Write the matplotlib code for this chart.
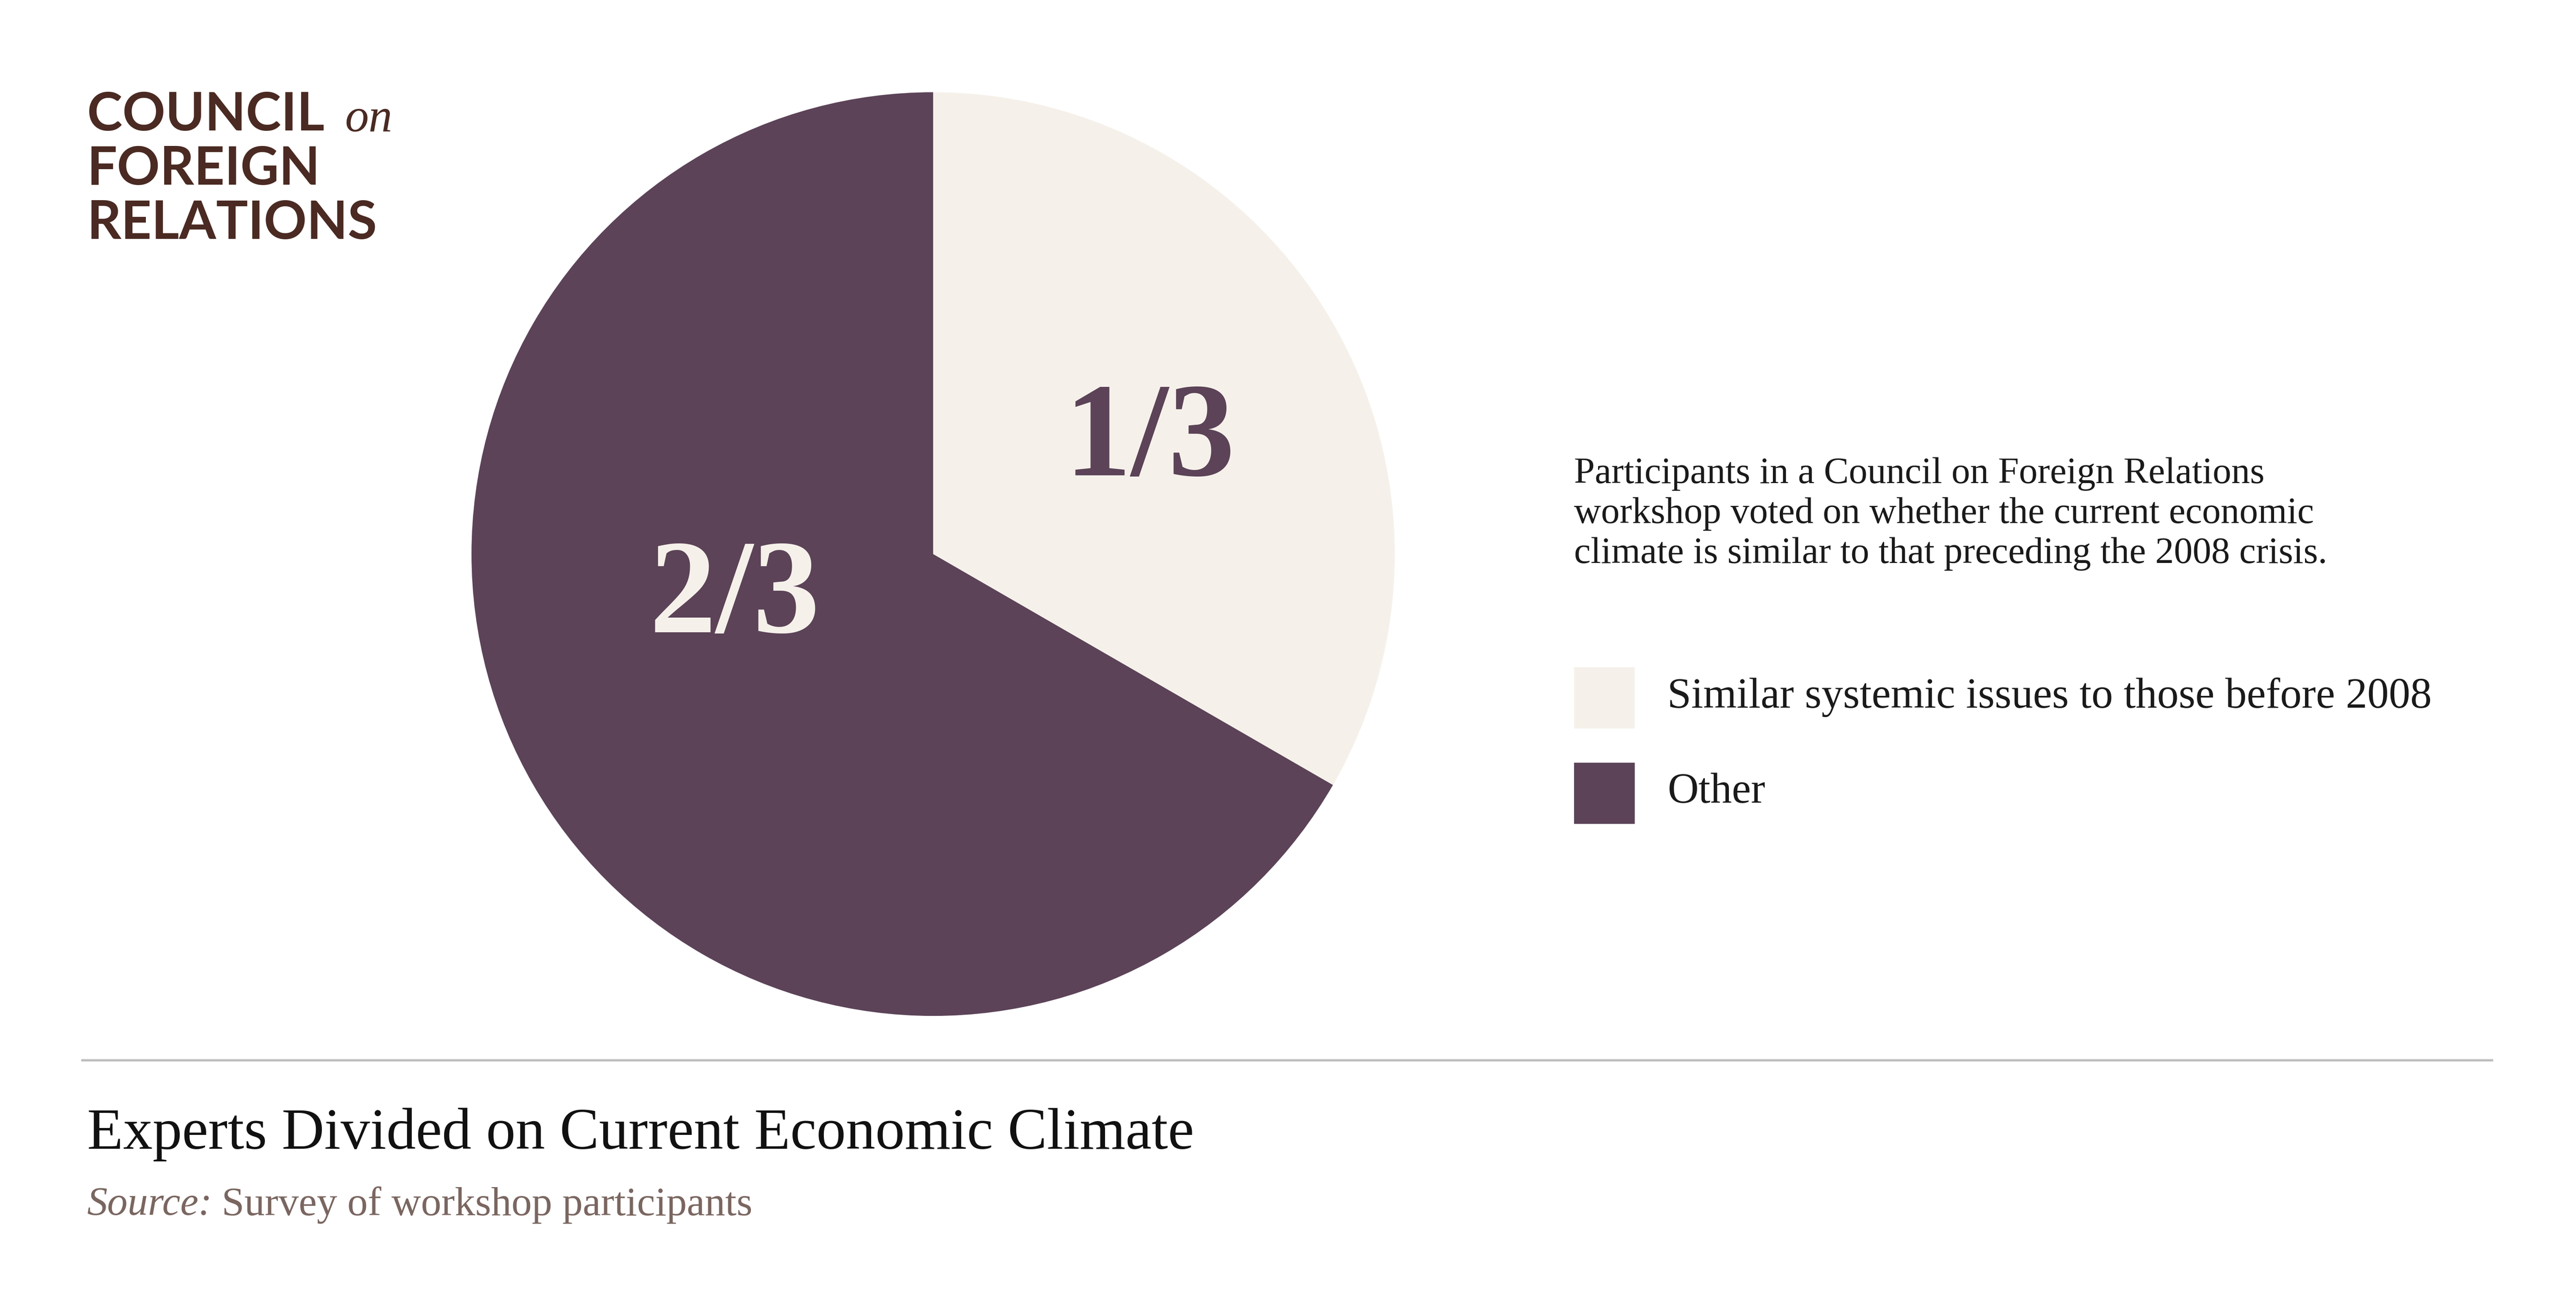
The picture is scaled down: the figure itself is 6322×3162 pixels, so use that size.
import matplotlib
matplotlib.use("Agg")
import matplotlib.pyplot as plt
from matplotlib.patches import Rectangle
from matplotlib.lines import Line2D

categories = ["Similar systemic issues to those before 2008", "Other"]
values = [1, 2]
labels = ["1/3", "2/3"]
colors = ["#F5F1EA", "#5C4358"]
label_colors = ["#5C4358", "#F5F1EA"]

W, H = 1568, 784
def fx(x): return x / W
def fy(y): return 1 - y / H

fig = plt.figure(figsize=(31.61, 15.81), dpi=200)
fig.patch.set_facecolor("white")
serif = ["Liberation Serif", "DejaVu Serif"]

ax = fig.add_axes([fx(287), fy(618), 562 / W, 562 / H])
wedges, _ = ax.pie(values, colors=colors, startangle=90, counterclock=False,
                   wedgeprops=dict(linewidth=0))
ax.set_aspect("equal")
ax.set_xlim(-1, 1); ax.set_ylim(-1, 1)
ax.text(0.47, 0.24, labels[0], ha="center", va="center", fontsize=118,
        fontweight="bold", color=label_colors[0], family=serif)
ax.text(-0.43, -0.1, labels[1], ha="center", va="center", fontsize=118,
        fontweight="bold", color=label_colors[1], family=serif)

# logo
brown = "#4A2A22"
fig.text(fx(53), fy(70), "COUNCIL", fontsize=47, fontweight="bold", color=brown,
         family="Lato", va="center", ha="left")
fig.text(fx(210), fy(73), "on", fontsize=42, style="italic", color=brown,
         family=serif, va="center", ha="left")
fig.text(fx(53), fy(103), "FOREIGN", fontsize=47, fontweight="bold", color=brown,
         family="Lato", va="center", ha="left")
fig.text(fx(53), fy(136), "RELATIONS", fontsize=47, fontweight="bold", color=brown,
         family="Lato", va="center", ha="left")

# description
fig.text(fx(958), fy(278), "Participants in a Council on Foreign Relations\n"
         "workshop voted on whether the current economic\n"
         "climate is similar to that preceding the 2008 crisis.",
         fontsize=33, color="#1a1a1a", family=serif, va="top", ha="left",
         linespacing=1.25)

# legend
for i, (cat, col) in enumerate(zip(categories, colors)):
    y0 = 406 + i * 58
    fig.patches.append(Rectangle((fx(958), fy(y0 + 37)), 37 / W, 37 / H,
                                 transform=fig.transFigure, facecolor=col,
                                 edgecolor="none"))
    fig.text(fx(1015), fy(y0 + 18), cat, fontsize=38, color="#1a1a1a",
             family=serif, va="center", ha="left")

fig.lines.append(Line2D([fx(50), fx(1517)], [fy(645), fy(645)],
                        transform=fig.transFigure, color="#BDBDBD", linewidth=2))

fig.text(fx(53), fy(690), "Experts Divided on Current Economic Climate",
         fontsize=52, color="#111111", family=serif, va="center", ha="left")
fig.text(fx(53), fy(733), r"$\it{Source:}$", fontsize=36, color="#7A6660",
         family=serif, va="center", ha="left", alpha=0)
t = fig.text(fx(53), fy(733), "Source:", fontsize=36, color="#7A6660",
             family=serif, style="italic", va="center", ha="left")
fig.text(fx(135), fy(733), "Survey of workshop participants", fontsize=36,
         color="#7A6660", family=serif, va="center", ha="left")

fig.savefig("out.png", dpi=200, facecolor="white")
